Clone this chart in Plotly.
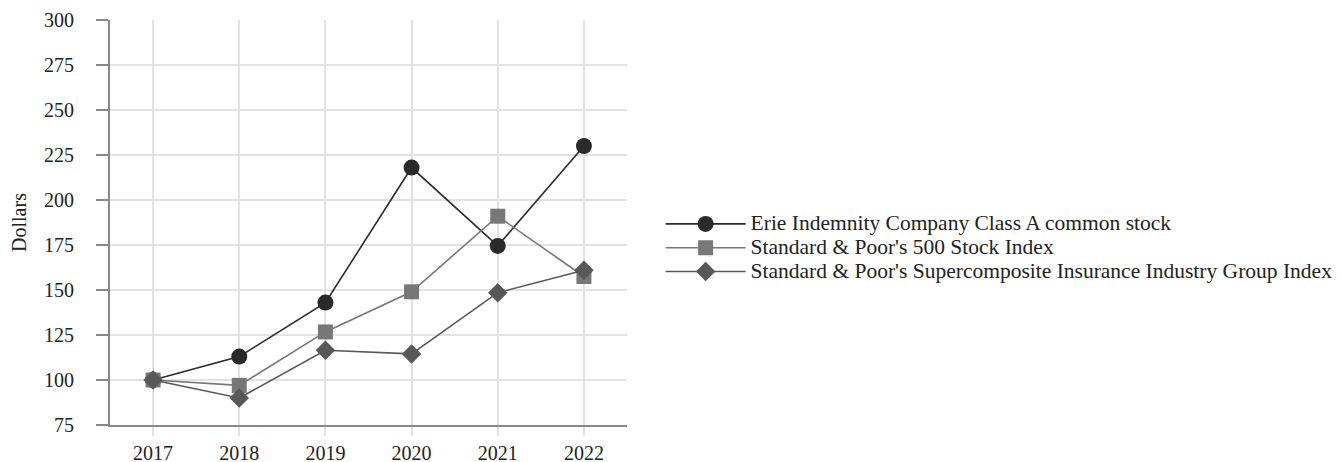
import plotly.graph_objects as go

years = ["2017", "2018", "2019", "2020", "2021", "2022"]
erie = [100, 113, 143, 218, 174.5, 230]
sp500 = [100, 97, 126.7, 149, 191, 157.5]
insurance = [100, 90, 116.5, 114.5, 148.5, 161]
names = [
    "Erie Indemnity Company Class A common stock",
    "Standard & Poor's 500 Stock Index",
    "Standard & Poor's Supercomposite Insurance Industry Group Index",
]
y_ticks = [75, 100, 125, 150, 175, 200, 225, 250, 275, 300]

def legend_label(text):
    return '<span style="font-size:21.5px">' + text + '</span>'

fig = go.Figure()
fig.add_trace(go.Scatter(x=years, y=erie, name=legend_label(names[0]), mode="lines+markers",
                         line=dict(color="#2a2a2a", width=1.6),
                         marker=dict(symbol="circle", size=16, color="#2a2a2a")))
fig.add_trace(go.Scatter(x=years, y=sp500, name=legend_label(names[1]), mode="lines+markers",
                         line=dict(color="#777777", width=1.6),
                         marker=dict(symbol="square", size=15, color="#777777")))
fig.add_trace(go.Scatter(x=years, y=insurance, name=legend_label(names[2]), mode="lines+markers",
                         line=dict(color="#585858", width=1.6),
                         marker=dict(symbol="diamond", size=15, color="#585858")))

font = "Liberation Serif, Times New Roman, serif"
fig.update_layout(
    width=1342, height=462,
    margin=dict(l=102, r=715, t=12, b=45),
    paper_bgcolor="white", plot_bgcolor="white",
    font=dict(family=font, size=20, color="#222222"),
    showlegend=True,
    legend=dict(x=1.065, y=0.437, xanchor="left", yanchor="middle",
                font=dict(family=font, size=16, color="#222222"),
                itemwidth=80, tracegroupgap=0, bgcolor="rgba(0,0,0,0)"),
    xaxis=dict(type="category", range=[-0.5, 5.5], showgrid=True, gridcolor="#e2e2e2",
               gridwidth=1.5, showline=True, linecolor="#888888", linewidth=2,
               ticks="outside", ticklen=9, tickcolor="#e2e2e2", tickwidth=1.5,
               automargin=False,
               zeroline=False, tickfont=dict(family=font, size=20, color="#222222")),
    yaxis=dict(range=[75, 300], tickvals=y_ticks, showgrid=True, gridcolor="#e2e2e2",
               gridwidth=1.5, showline=True, linecolor="#888888", linewidth=2,
               ticks="outside", ticklen=12, tickcolor="#888888", tickwidth=1.5,
               ticklabelstandoff=18, automargin=False,
               zeroline=False, title=dict(text="Dollars", standoff=16,
               font=dict(family=font, size=20, color="#222222")),
               tickfont=dict(family=font, size=20, color="#222222")),
)
fig.write_html("out.html")
